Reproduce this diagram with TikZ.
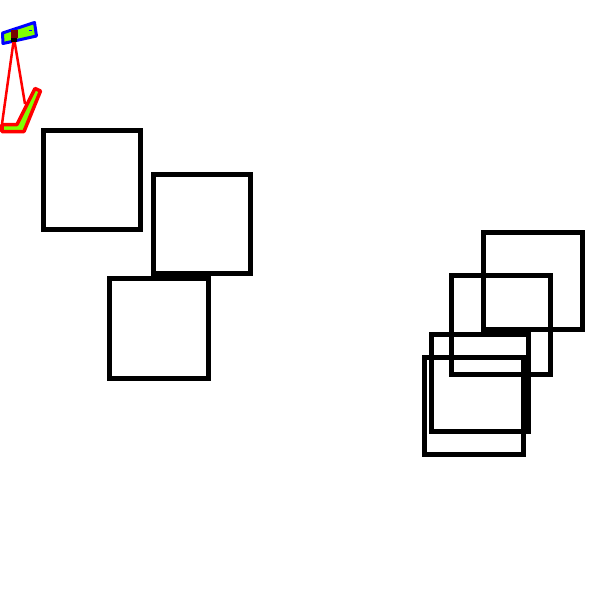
\documentclass[tikz,border=0pt]{standalone}
\definecolor{lime}{RGB}{128,255,0}
\definecolor{dred}{RGB}{120,0,0}
\tikzset{
  sq/.style={draw=black,line width=5pt,miter limit=10},
  bluebox/.style={draw=blue,line width=3pt,fill=lime,line join=round},
  redbox/.style={draw=red,line width=3.5pt,fill=lime,line join=round},
  wire/.style={draw=red,line width=2.5pt}
}
\begin{document}
\begin{tikzpicture}[x=1pt,y=-1pt]
\useasboundingbox (0,0) rectangle (600,600);
\fill[white] (0,0) rectangle (600,600);
\draw[sq] (43.5,130.5) rectangle (140.5,229);
\draw[sq] (153.5,174.5) rectangle (250.5,273);
\draw[sq] (109.5,278.5) rectangle (208.5,378);
\draw[sq] (483.5,232.5) rectangle (582.5,329.5);
\draw[sq] (451.5,275.5) rectangle (550.5,374.5);
\draw[sq] (431.5,334.5) rectangle (528,431.5);
\draw[sq] (424.5,357.5) rectangle (523.5,454.5);
% top gripper
\draw[bluebox] (2.5,33) -- (34.5,22.5) -- (36.5,36) -- (3,43.5) -- cycle;
\fill[blue] (29,30) rectangle (32,31);
% bottom part
\draw[redbox] (2,124.5) -- (17,124.5) -- (35,88.5) -- (40.5,91) -- (24,131.5) -- (2,131.5) -- cycle;
% wires
\coordinate (pivot) at (14,38);
\coordinate (endL) at (2,124);
\coordinate (endR) at (25,104);
\draw[wire] (pivot) -- (endL);
\draw[wire] (pivot) -- (endR);
\fill[black] (11,33) rectangle (17,42);
\fill[dred] (10.5,30) rectangle (17.5,38);
\end{tikzpicture}
\end{document}
